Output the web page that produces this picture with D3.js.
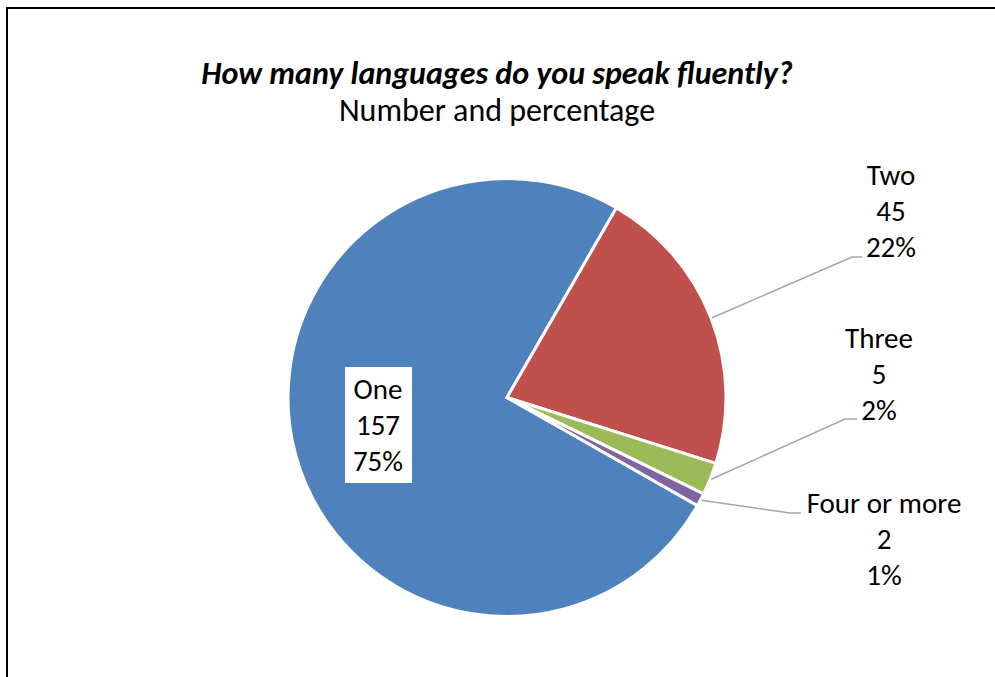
<!DOCTYPE html>
<html>
<head>
  <meta charset="utf-8">
  <title>Languages</title>
  <script src="https://cdn.jsdelivr.net/npm/d3@7"></script>
  <style>
    body { margin: 0; background: #fff; }
    text { font-family: Carlito, Lato, "Open Sans", sans-serif; fill: #000; }
    .title { font-size: 32px; font-weight: bold; font-style: italic; }
    .subtitle { font-size: 32px; }
    .lbl { font-size: 29px; }
    .leader { fill: none; stroke: #a6a6a6; stroke-width: 1.5px; }
  </style>
</head>
<body>
<svg width="995" height="677"></svg>
<script>
  var categories = ["One", "Two", "Three", "Four or more"];
  var counts = [157, 45, 5, 2];
  var percents = ["75%", "22%", "2%", "1%"];
  var colors = ["#4f81bd", "#c0504d", "#9bbb59", "#8064a2"];

  // where excel put each label (centre x, first baseline) and the elbow of its leader
  var labelPos = [
    {x: 378, y: 399, inside: true},
    {x: 891, y: 185, elbowX: 852, elbowY: 257, endX: 862},
    {x: 879, y: 348, elbowX: 845, elbowY: 419, endX: 857},
    {x: 884, y: 513, elbowX: 790, elbowY: 513, endX: 801}
  ];

  var svg = d3.select("svg"),
      cx = 507, cy = 397.5, radius = 219,
      lineGap = 36;

  // chart frame (runs off the right and bottom edge)
  svg.append("rect")
      .attr("x", 7).attr("y", 8)
      .attr("width", 1000).attr("height", 700)
      .attr("fill", "none").attr("stroke", "#000").attr("stroke-width", 2);

  svg.append("text").attr("class", "title")
      .attr("x", 497).attr("y", 84).attr("text-anchor", "middle")
      .text("How many languages do you speak fluently?");
  svg.append("text").attr("class", "subtitle")
      .attr("x", 497).attr("y", 121).attr("text-anchor", "middle")
      .text("Number and percentage");

  // first slice starts where excel's rotation put it
  var first = 2 * Math.PI * (1 - d3.sum(counts.slice(1)) / d3.sum(counts)) ;
  var offset = Math.PI / 6 - first;

  var pie = d3.pie().sort(null).value(function(d) { return d; })
      .startAngle(offset).endAngle(offset + 2 * Math.PI);
  var arcs = pie(counts);

  var arc = d3.arc().innerRadius(0).outerRadius(radius);

  var g = svg.append("g").attr("transform", "translate(" + cx + "," + cy + ")");

  g.selectAll("path.slice")
    .data(arcs)
    .enter().append("path")
      .attr("class", "slice")
      .attr("d", arc)
      .attr("fill", function(d, i) { return colors[i]; })
      .attr("stroke", "#fff")
      .attr("stroke-width", 3)
      .attr("stroke-linejoin", "miter");

  // leader lines
  arcs.forEach(function(d, i) {
    var p = labelPos[i];
    if (p.inside) return;
    var a = (d.startAngle + d.endAngle) / 2;
    var sx = cx + (radius + 1) * Math.sin(a),
        sy = cy - (radius + 1) * Math.cos(a);
    svg.append("path").attr("class", "leader")
        .attr("d", d3.line()([[sx, sy], [p.elbowX, p.elbowY], [p.endX, p.elbowY]]));
  });

  // labels
  arcs.forEach(function(d, i) {
    var p = labelPos[i];
    var lines = [categories[i], String(counts[i]), percents[i]];
    var lg = svg.append("g");
    if (p.inside) {
      lg.append("rect")
          .attr("x", p.x - 33).attr("y", p.y - 32)
          .attr("width", 67).attr("height", 116)
          .attr("fill", "#fff");
    }
    lines.forEach(function(t, k) {
      lg.append("text").attr("class", "lbl")
          .attr("x", p.x).attr("y", p.y + k * lineGap)
          .attr("text-anchor", "middle")
          .text(t);
    });
  });
</script>
</body>
</html>
